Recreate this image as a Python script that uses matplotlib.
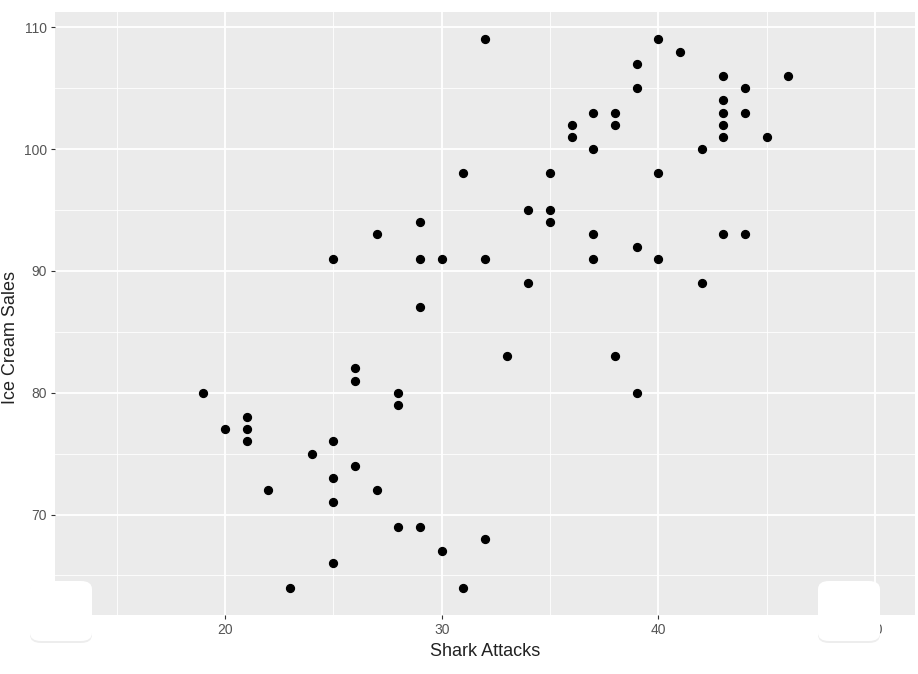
import matplotlib
matplotlib.use("Agg")
import matplotlib.pyplot as plt
from matplotlib.patches import FancyBboxPatch

plt.rcParams['font.family'] = ['Liberation Sans', 'DejaVu Sans']

shark_attacks = [32, 40, 41, 39, 43, 46, 39, 44, 43, 37, 38, 43, 44, 36, 38, 43,
                 36, 43, 45, 37, 42, 31, 35, 40, 34, 35, 35, 29, 27, 37, 43, 44,
                 39, 25, 29, 30, 32, 37, 40, 34, 42, 29, 33, 38, 26, 26, 19, 28,
                 39, 28, 21, 20, 21, 21, 25, 24, 26, 25, 22, 27, 25, 28, 29, 32,
                 30, 25, 23, 31]
ice_cream_sales = [109, 109, 108, 107, 106, 106, 105, 105, 104, 103, 103, 103, 103,
                   102, 102, 102, 101, 101, 101, 100, 100, 98, 98, 98, 95, 95, 94,
                   94, 93, 93, 93, 93, 92, 91, 91, 91, 91, 91, 91, 89, 89, 87, 83,
                   83, 82, 81, 80, 80, 80, 79, 78, 77, 77, 76, 76, 75, 74, 73, 72,
                   72, 71, 69, 69, 68, 67, 66, 64, 64]

x_ticks = [20, 30, 40, 50]
y_ticks = [70, 80, 90, 100, 110]

fig = plt.figure(figsize=(9.18, 6.74), dpi=100)
ax = fig.add_axes([55 / 918, 59 / 674, 860 / 918, 603 / 674])
ax.set_facecolor('#EBEBEB')

ax.set_xlim(12.15, 51.85)
ax.set_ylim(61.75, 111.25)
ax.set_xticks(x_ticks)
ax.set_yticks(y_ticks)
ax.set_xticks([15, 25, 35, 45], minor=True)
ax.set_yticks([65, 75, 85, 95, 105], minor=True)
ax.grid(True, which='major', color='white', linewidth=1.3)
ax.grid(True, which='minor', color='white', linewidth=0.6)
ax.set_axisbelow(True)
for s in ax.spines.values():
    s.set_visible(False)
ax.tick_params(which='major', length=3, color='#333333', labelcolor='#555555',
               labelsize=10, pad=3)
ax.tick_params(which='minor', length=0)

ax.scatter(shark_attacks, ice_cream_sales, s=32, color='black', zorder=3)

ax.set_xlabel('Shark Attacks', fontsize=13, color='#222222', labelpad=4)
fig.text(0.011, 0.5, 'Ice Cream Sales', rotation=90, fontsize=13,
         color='#222222', ha='center', va='center')

# white rounded overlay boxes from the video player
for x0 in (30, 818):
    shadow = FancyBboxPatch((x0 / 918, (674 - 643) / 674), 62 / 918, 60 / 674,
                            boxstyle='round,pad=0,rounding_size=0.012',
                            transform=fig.transFigure, facecolor='#dddddd',
                            edgecolor='none', alpha=0.5, zorder=9)
    box = FancyBboxPatch((x0 / 918, (674 - 641) / 674), 62 / 918, 60 / 674,
                         boxstyle='round,pad=0,rounding_size=0.012',
                         transform=fig.transFigure, facecolor='white',
                         edgecolor='none', zorder=10)
    fig.patches.append(shadow)
    fig.patches.append(box)

fig.savefig('out.png', dpi=100)
